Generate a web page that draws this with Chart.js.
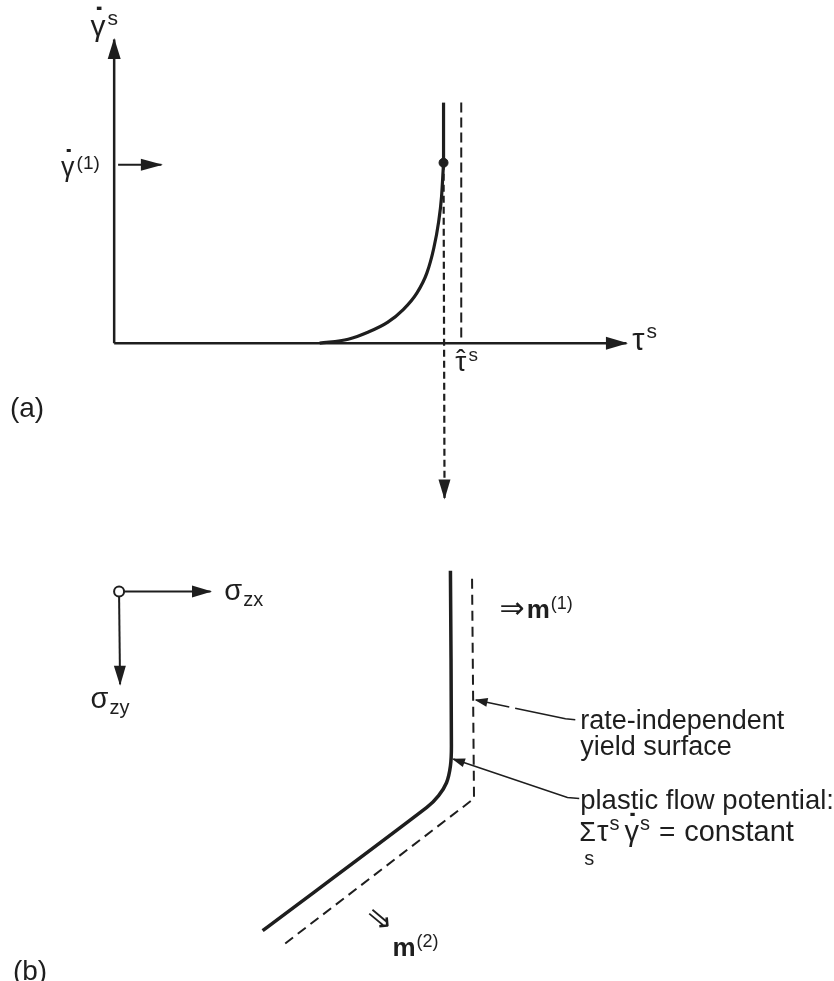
<!DOCTYPE html>
<html><head><meta charset="utf-8">
<script src="https://cdn.jsdelivr.net/npm/chart.js@4"></script>
<style>html,body{margin:0;padding:0;background:#fff;overflow:hidden}#wrap{width:834px;height:981px;position:relative}</style>
</head><body><div id="wrap"><canvas id="c" width="834" height="981"></canvas></div>
<script>
// ===== DATA (diagram units on a 834 x 981 grid, y measured downward) =====
// Panel (a): slip rate gamma-dot^s versus resolved shear stress tau^s
const gammaAxis      = [[109,341],[109,33]];
const tauAxis        = [[109,341],[630,341]];
const gammaRefArrow  = [[113,160],[157,160]];
const rateCurveTau   = [318,347,367,387,403,417,427,434,439,442,443.5,444];
const rateCurveGamma = [341,337,330,320,307,290,270,245,218,192,167,158];
const rateCurveUpper = [[444,158],[444,97]];
const tauHatLine     = [[462,97],[462,341]];
const projection     = [[444,158],[445,498]];
const operatingPoint = [[444,158]];
// Panel (b): stress space sigma_zx / sigma_zy
const sigmaOrigin    = [[114,593]];
const sigmaZxArrow   = [[119,593],[207,593]];
const sigmaZyArrow   = [[114,598],[115,687]];
const flowPotential  = [[451,572],[452,750],[451,770],[447,787],[439,800],[427,812],[260,937]];
const yieldSurface   = [[473,580],[475,803],[283,950]];
const leaderRate     = [[477,703],[568,722],[578,723]];
const leaderFlow     = [[454,763],[570,802],[582,803]];

// ===== helpers =====
const INK = '#1e1e1e';
const FONT = '"Liberation Sans", "DejaVu Sans", Arial, sans-serif';
const pts = a => a.map(p => ({x:p[0], y:p[1]}));
const zipPts = (xs, ys) => xs.map((x,i) => ({x, y:ys[i]}));
function line(data, o={}) {
  return Object.assign({data, showLine:true, borderColor:INK, backgroundColor:INK,
    borderWidth:2.5, pointRadius:0, fill:false, tension:0, borderCapStyle:'butt'}, o);
}

// text labels (anchor = left baseline)
const labels = [
  {x:85, y:29, runs:[{t:'γ',s:30},{t:'˙',s:34,b:true,over:true,dy:-5,dx:1},{t:'s',s:21,dy:-11,dx:2}]},
  {x:55, y:171, runs:[{t:'γ',s:27},{t:'˙',s:30,b:true,over:true,dy:-5,dx:1},{t:'(1)',s:19,dy:-7,dx:2}]},
  {x:636, y:348, runs:[{t:'τ',s:31},{t:'s',s:21,dy:-12,dx:2}]},
  {x:456, y:369, runs:[{t:'τ',s:28},{t:'ˆ',s:28,over:true,dy:-2},{t:'s',s:19,dy:-10,dx:2}]},
  {x:3, y:416, runs:[{t:'(a)',s:28}]},
  {x:221, y:602, runs:[{t:'σ',s:29},{t:'zx',s:20,dy:6,dx:1}]},
  {x:85, y:711, runs:[{t:'σ',s:29},{t:'zy',s:20,dy:6,dx:1}]},
  {x:501, y:620, runs:[{t:'⇒',s:30},{t:'m',s:26,b:true,dx:2},{t:'(1)',s:18,dy:-9,dx:1}]},
  {x:392, y:963, runs:[{t:'m',s:26,b:true},{t:'(2)',s:18,dy:-9,dx:1}]},
  {x:378, y:926, rot:40, center:true, runs:[{t:'⇒',s:31}]},
  {x:583, y:732, runs:[{t:'rate-independent',s:27}]},
  {x:583, y:759, runs:[{t:'yield surface',s:27}]},
  {x:583, y:814, runs:[{t:'plastic flow potential:',s:27.5}]},
  {x:582, y:846, runs:[{t:'Σ',s:27},{t:'τ',s:29,dx:1},{t:'s',s:20,dy:-11,dx:1},
     {t:'γ',s:29,dx:5},{t:'˙',s:32,b:true,over:true,dy:-5,dx:1},{t:'s',s:20,dy:-11,dx:1},
     {t:'=',s:28,dx:9},{t:'constant',s:29,dx:9}]},
  {x:587, y:870, runs:[{t:'s',s:20}]},
  {x:6, y:987, runs:[{t:'(b)',s:28}]}
];

function drawRuns(ctx, x, y, runs, center) {
  let cx = x, prev = null;
  if (center) {
    let tw = 0;
    runs.forEach(r => { if (!r.over) { ctx.font = (r.b?'bold ':'') + r.s + 'px ' + FONT; tw += ctx.measureText(r.t).width + (r.dx||0); } });
    cx = x - tw/2;
  }
  for (const r of runs) {
    ctx.font = (r.b?'bold ':'') + r.s + 'px ' + (r.f || FONT);
    const w = ctx.measureText(r.t).width;
    if (r.over && prev) {
      ctx.textAlign = 'center';
      ctx.fillText(r.t, prev + (r.dx||0), y + (r.dy||0));
      ctx.textAlign = 'left';
      continue;
    }
    cx += r.dx || 0;
    ctx.fillText(r.t, cx, y + (r.dy||0));
    prev = cx + w/2;
    cx += w;
  }
}

const textPlugin = {
  id:'diagramText',
  afterDraw(chart) {
    const ctx = chart.ctx, sx = chart.scales.x, sy = chart.scales.y;
    ctx.save();
    ctx.fillStyle = INK;
    ctx.textAlign = 'left';
    labels.forEach(l => {
      const px = sx.getPixelForValue(l.x), py = sy.getPixelForValue(l.y);
      if (l.rot) {
        ctx.save(); ctx.translate(px, py); ctx.rotate(l.rot*Math.PI/180);
        ctx.textBaseline = 'middle';
        drawRuns(ctx, 0, 0, l.runs, true);
        ctx.restore();
      } else {
        ctx.textBaseline = 'alphabetic';
        drawRuns(ctx, px, py, l.runs, l.center);
      }
    });
    ctx.restore();
  }
};

const arrowPlugin = {
  id:'arrowHeads',
  afterDatasetsDraw(chart) {
    const ctx = chart.ctx;
    chart.data.datasets.forEach((ds, i) => {
      if (!ds.arrow) return;
      const el = chart.getDatasetMeta(i).data;
      let a, b;
      if (ds.arrow === 'end') { a = el[el.length-2]; b = el[el.length-1]; }
      else { a = el[1]; b = el[0]; }
      const ang = Math.atan2(b.y - a.y, b.x - a.x);
      const L = ds.arrowLen || 21, W = ds.arrowWidth || 6.5;
      ctx.save();
      ctx.translate(b.x, b.y); ctx.rotate(ang);
      ctx.beginPath();
      ctx.moveTo(1.5, 0); ctx.lineTo(1.5 - L, -W); ctx.lineTo(1.5 - L, W); ctx.closePath();
      ctx.fillStyle = ds.borderColor; ctx.fill();
      ctx.restore();
    });
  }
};

const datasets = [
  line(pts(gammaAxis), {arrow:'end', arrowLen:21, arrowWidth:6.5}),
  line(pts(tauAxis), {arrow:'end', arrowLen:22, arrowWidth:6.5}),
  line(pts(gammaRefArrow), {borderWidth:2, arrow:'end', arrowLen:22, arrowWidth:6}),
  line(zipPts(rateCurveTau, rateCurveGamma), {borderWidth:3.2, tension:0.4, cubicInterpolationMode:'monotone'}),
  line(pts(rateCurveUpper), {borderWidth:3.2}),
  line(pts(tauHatLine), {borderWidth:2, borderDash:[10,5]}),
  line(pts(projection), {borderWidth:2.2, borderDash:[7,4], arrow:'end', arrowLen:20, arrowWidth:6}),
  {data:pts(operatingPoint), showLine:false, pointRadius:4.5, pointBackgroundColor:INK, pointBorderColor:INK, pointBorderWidth:1},
  line(pts(sigmaZxArrow), {borderWidth:2, arrow:'end', arrowLen:20, arrowWidth:6}),
  line(pts(sigmaZyArrow), {borderWidth:2, arrow:'end', arrowLen:20, arrowWidth:6}),
  {data:pts(sigmaOrigin), showLine:false, pointRadius:5, pointBackgroundColor:'#fff', pointBorderColor:INK, pointBorderWidth:2},
  line(pts(flowPotential), {borderWidth:3.5, tension:0.3}),
  line(pts(yieldSurface), {borderWidth:2, borderDash:[10,6]}),
  line(pts(leaderRate), {borderWidth:1.6, borderDash:[34,6,300], arrow:'start', arrowLen:13, arrowWidth:4.5}),
  line(pts(leaderFlow), {borderWidth:1.6, arrow:'start', arrowLen:13, arrowWidth:4.5})
];

new Chart(document.getElementById('c'), {
  type:'scatter',
  data:{datasets},
  options:{
    responsive:false, animation:false, devicePixelRatio:1, events:[],
    layout:{padding:0},
    plugins:{legend:{display:false}, tooltip:{enabled:false}},
    scales:{
      x:{type:'linear', min:0, max:834, display:false},
      y:{type:'linear', min:0, max:981, reverse:true, display:false}
    }
  },
  plugins:[arrowPlugin, textPlugin]
});
</script></body></html>
